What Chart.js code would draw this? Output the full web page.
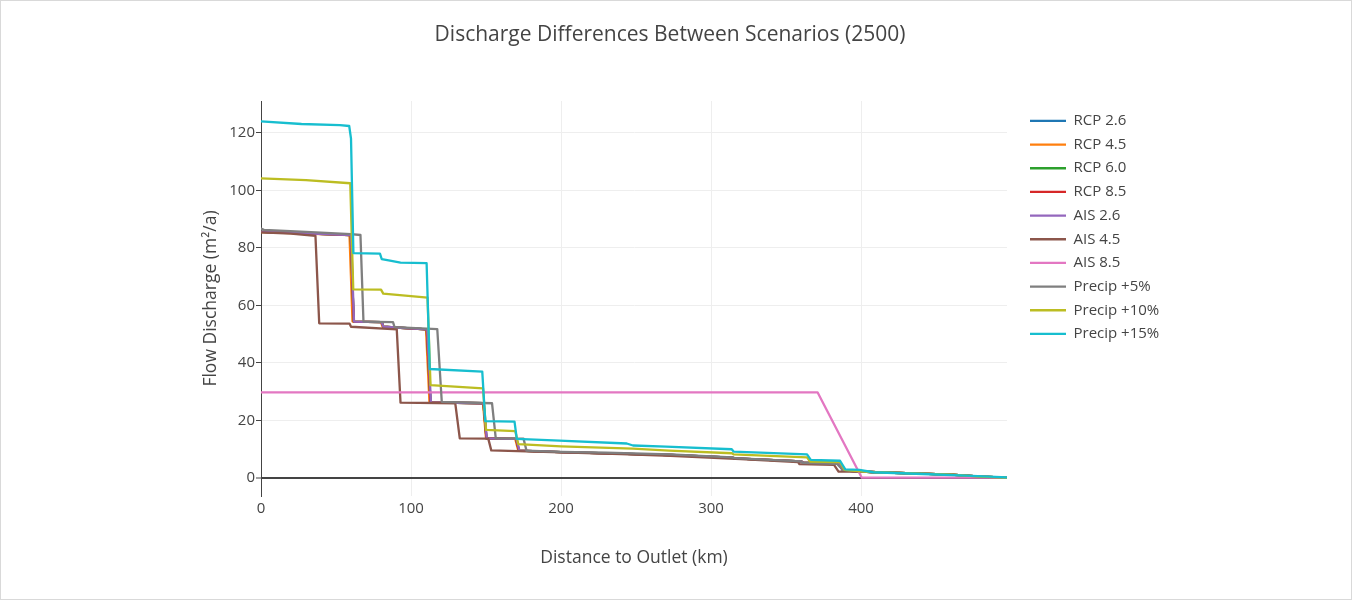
<!DOCTYPE html>
<html><head><meta charset="utf-8">
<script src="https://cdn.jsdelivr.net/npm/chart.js@4.4.1/dist/chart.umd.min.js"></script>
<style>
html,body{margin:0;padding:0;background:#fff;}
#wrap{position:relative;width:1352px;height:600px;}
#frame{position:absolute;left:0;top:0;width:1350px;height:598px;border:1px solid #d9d9d9;pointer-events:none;}
canvas{display:block;}
</style></head><body>
<div id="wrap"><canvas id="c" width="1352" height="600"></canvas><div id="frame"></div></div>
<script>
const chartTitle = 'Discharge Differences Between Scenarios (2500)';
const xTitle = 'Distance to Outlet (km)';
const yTitle = 'Flow Discharge (m\u00B2/a)';
const seriesNames = ['RCP 2.6','RCP 4.5','RCP 6.0','RCP 8.5','AIS 2.6','AIS 4.5','AIS 8.5','Precip +5%','Precip +10%','Precip +15%'];
const seriesColors = ['#1f77b4','#ff7f0e','#2ca02c','#d62728','#9467bd','#8c564b','#e377c2','#7f7f7f','#bcbd22','#17becf'];
const xTicks = [0,100,200,300,400];
const yTicks = [0,20,40,60,80,100,120];

// [distance km, discharge]
const rcp26 = [[0,85.6],[30,85.1],[59.8,84.5],[61.8,54.4],[80.5,54.2],[81.5,52.6],[110.5,51.7],[113,26.3],[148.3,26.0],[150.3,13.8],[170,13.6],[172,9.5],[200,9.0],[250,8.3],[273,8.0],[314,7.1],[316,6.8],[360,5.8],[361.5,5.3],[385,5.0],[388,2.7],[395,2.4],[410,2.0],[440,1.5],[460,1.2],[480,0.5],[497.3,0.1]];
const rcp45 = [[0,85.5],[30,85.0],[59,84.5],[61,54.4],[80,54.2],[81,52.6],[110,51.7],[112.3,26.3],[148,26.0],[150,13.8],[169.5,13.6],[171.5,9.5],[200,9.0],[250,8.3],[273,8.0],[314,7.1],[316,6.8],[360,5.8],[361.5,5.3],[385,5.0],[388,2.7],[395,2.4],[410,2.0],[440,1.5],[460,1.2],[480,0.5],[497.3,0.1]];
const rcp60 = [[0,85.6],[30,85.1],[59.8,84.5],[61.8,54.4],[80.5,54.2],[81.5,52.6],[110.5,51.7],[113,26.3],[148.3,26.0],[150.3,13.8],[170,13.6],[172,9.5],[200,9.0],[250,8.3],[273,8.0],[314,7.1],[316,6.8],[360,5.8],[361.5,5.3],[385,5.0],[388,2.7],[395,2.4],[410,2.0],[440,1.5],[460,1.2],[480,0.5],[497.3,0.1]];
const rcp85 = [[0,85.6],[30,85.1],[59.8,84.5],[61.8,54.4],[80.5,54.2],[81.5,52.6],[110.5,51.7],[113,26.3],[148.3,26.0],[150.3,13.8],[170,13.6],[172,9.5],[200,9.0],[250,8.3],[273,8.0],[314,7.1],[316,6.8],[360,5.8],[361.5,5.3],[385,5.0],[388,2.7],[395,2.4],[410,2.0],[440,1.5],[460,1.2],[480,0.5],[497.3,0.1]];
const ais26 = [[0,85.6],[30,85.1],[60,84.5],[62,54.4],[80.5,54.2],[81.5,52.6],[110.8,51.7],[113.3,26.3],[148.5,26.0],[150.5,13.8],[170.3,13.6],[172.3,9.5],[200,9.0],[250,8.3],[273,8.0],[314,7.1],[316,6.8],[360,5.8],[361.5,5.3],[385,5.0],[388,2.7],[395,2.4],[410,2.0],[440,1.5],[460,1.2],[480,0.5],[497.3,0.1]];
const ais45 = [[0,85.4],[20,85.0],[36.3,84.2],[38.8,53.8],[59,53.7],[60,52.6],[90.5,51.7],[93,26.2],[129.5,26.0],[132.5,13.8],[151.5,13.7],[153.5,9.6],[200,8.9],[240,8.3],[273,7.7],[320,6.6],[358,5.5],[359,4.8],[382,4.6],[385,2.2],[392,2.2],[400,2.2],[410,2.0],[440,1.5],[460,1.2],[480,0.5],[497.3,0.1]];
const ais85 = [[0,29.8],[371,29.8],[400.5,0.1],[497.3,0.1]];
const precip5 = [[0,86.7],[2,86.3],[30,85.6],[60,84.8],[66.3,84.5],[68.3,54.4],[88,54.2],[89,52.5],[117.5,51.8],[120.5,26.5],[154,26.0],[156.5,13.8],[175,13.7],[177,9.5],[200,9.1],[230,8.8],[273,8.2],[314,7.2],[316,6.9],[360,5.8],[361,5.3],[384,4.9],[388,2.8],[395,2.5],[410,2.0],[440,1.5],[460,1.2],[480,0.5],[497.3,0.1]];
const precip10 = [[0,104.2],[30,103.6],[59.5,102.5],[61.5,65.6],[80,65.5],[81.5,64.1],[111,62.7],[113,32.3],[148,31.2],[150,16.7],[169.5,16.3],[171.5,11.8],[200,11.0],[248,10.2],[272,9.5],[314,8.6],[315,8.2],[364,7.2],[366,5.7],[386,5.5],[389,2.8],[400,2.3],[410,2.0],[440,1.5],[460,1.2],[480,0.5],[497.3,0.1]];
const precip15 = [[0,124.0],[27,123.1],[52.6,122.7],[58.8,122.4],[60,118],[61.6,78.2],[79.3,78.0],[80.5,76.1],[86,75.6],[93,74.9],[110.4,74.7],[112.5,37.9],[147.5,37.0],[149.5,19.8],[169,19.6],[170.5,13.6],[199,13.0],[243.8,12.0],[248,11.3],[270,10.9],[313.8,10.0],[315,9.2],[364,8.2],[366.5,6.3],[386,6.0],[389.5,3.0],[399,2.8],[408,2.0],[446,1.3],[470,0.8],[497.3,0.2]];

const seriesData = [rcp26, rcp45, rcp60, rcp85, ais26, ais45, ais85, precip5, precip10, precip15];

const FONT = '"Open Sans", sans-serif';
Chart.defaults.font.family = FONT;
Chart.defaults.color = '#444';

// layout geometry (plot area 261..1007 x 101..496)
const legendFont = 15, legendPad = 8.67, legendBoxW = 36;
const mctx = document.createElement('canvas').getContext('2d');
mctx.font = 'normal ' + legendFont + 'px ' + FONT;
const maxLabelW = Math.max(...seriesNames.map(s => mctx.measureText(s).width));
const legendW = legendPad + legendBoxW + legendFont / 2 + maxLabelW + 10;
const legendLeft = 1030 - legendPad;
const gapScaleW = legendLeft - 1007;
const padR = 1352 - legendLeft - legendW;
const padL = padR - 12;
const yAxisW = 261 - padL;
const yTitlePad = 211 - padL - 10.5;

const n = seriesNames.length;
const datasets = seriesNames.map((name, i) => ({
  label: name,
  data: seriesData[i].map(p => ({x: p[0], y: p[1]})),
  borderColor: seriesColors[i],
  backgroundColor: seriesColors[i],
  borderWidth: 2.3,
  pointRadius: 0,
  tension: 0,
  borderJoinStyle: 'round',
  borderCapStyle: 'round',
  order: n - 1 - i,
  yAxisID: 'y'
}));

new Chart(document.getElementById('c'), {
  type: 'line',
  data: {datasets},
  options: {
    responsive: false,
    animation: false,
    events: [],
    layout: {padding: {left: padL, right: padR, top: 0, bottom: 24}},
    plugins: {
      title: {display: true, text: chartTitle, font: {size: 21, weight: 'normal'}, color: '#444', padding: {top: 22.4, bottom: 53.4}},
      legend: {
        position: 'right', align: 'start', fullSize: false,
        title: {display: true, text: ' ', font: {size: 3.1}, padding: 0},
        labels: {
          usePointStyle: true, pointStyle: 'line', pointStyleWidth: legendBoxW,
          padding: legendPad, font: {size: legendFont}, color: '#444',
          sort: (a, b) => a.datasetIndex - b.datasetIndex
        }
      },
      tooltip: {enabled: false}
    },
    scales: {
      x: {
        type: 'linear', min: 0, max: 497.3, position: 'bottom',
        afterBuildTicks: s => { s.ticks = xTicks.map(v => ({value: v})); },
        afterFit: s => { s.height = 80; },
        grid: {color: c => (c.tick && c.tick.value === 0) ? 'rgba(0,0,0,0)' : '#eeeeee', lineWidth: 1, drawTicks: false},
        border: {display: false},
        ticks: {padding: 4, font: {size: 15}, color: '#444', maxRotation: 0},
        title: {display: true, text: xTitle, font: {size: 17.5}, color: '#444', padding: {top: 0, bottom: 7.5}}
      },
      y: {
        type: 'linear', min: -6.26, max: 131.1, position: 'left',
        afterBuildTicks: s => { s.ticks = yTicks.map(v => ({value: v})); },
        afterFit: s => { s.width = yAxisW; },
        grid: {
          color: c => (c.tick && c.tick.value === 0) ? '#444' : '#eeeeee',
          lineWidth: c => (c.tick && c.tick.value === 0) ? 2 : 1,
          drawTicks: true, tickLength: 5, tickColor: '#444', tickWidth: 1
        },
        border: {display: true, color: '#444', width: 1},
        ticks: {padding: 1, font: {size: 15}, color: '#444'},
        title: {display: true, text: yTitle, font: {size: 17.5}, color: '#444', padding: {top: yTitlePad, bottom: 0}}
      },
      yR: {
        type: 'linear', position: 'right', display: true,
        grid: {display: false, drawTicks: false},
        ticks: {display: false},
        border: {display: false},
        afterFit: s => { s.width = gapScaleW; }
      }
    }
  }
});
</script>
</body></html>
